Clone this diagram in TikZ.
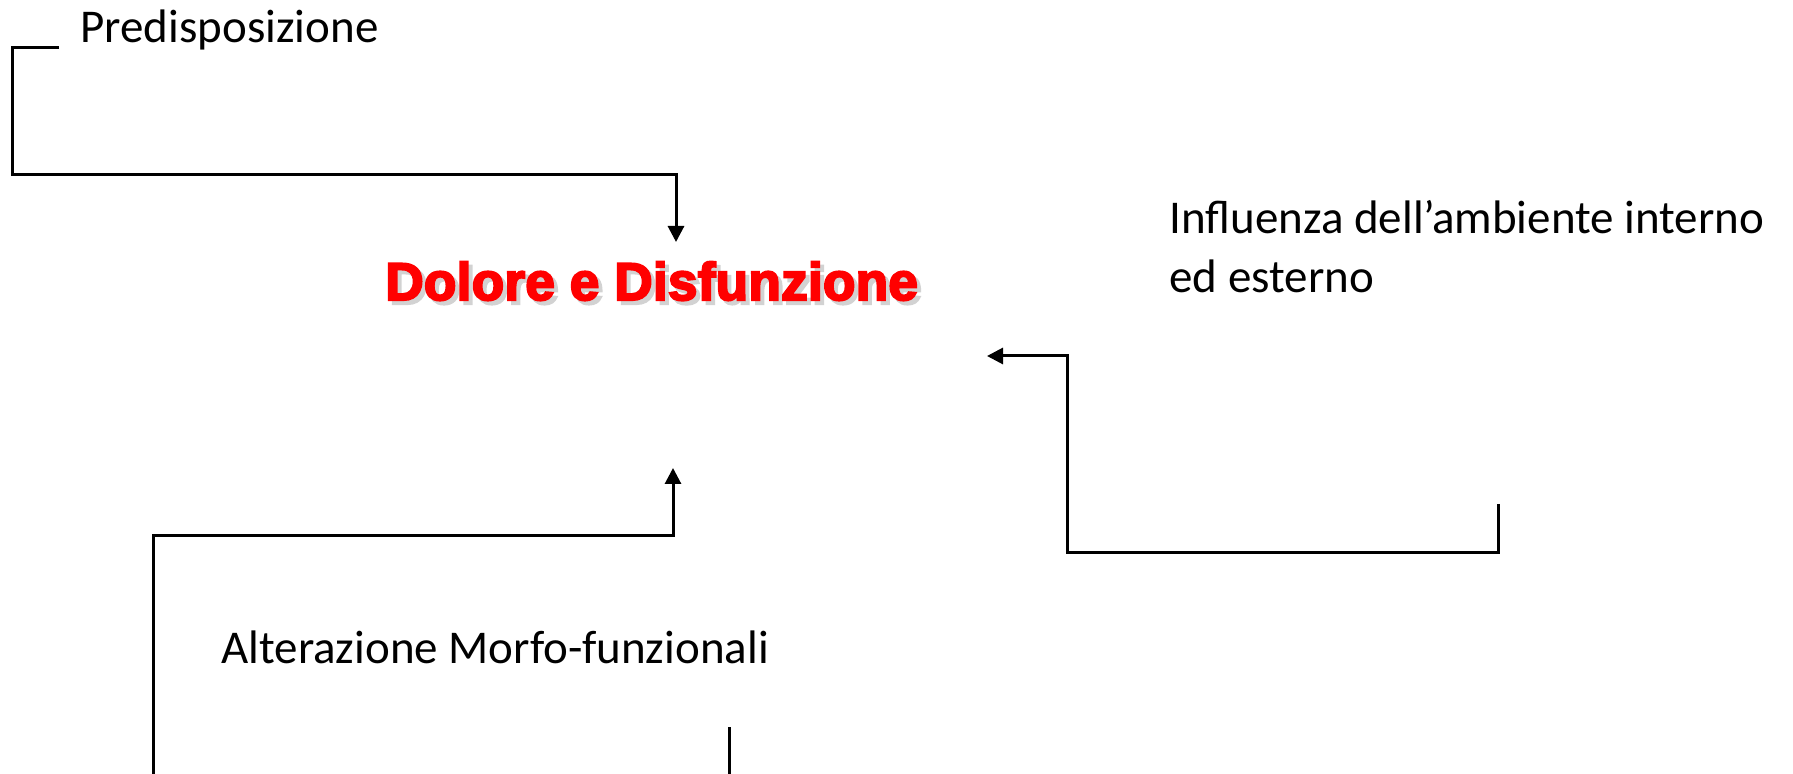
\documentclass[tikz,border=0pt]{standalone}
\usepackage{fontspec}
\usetikzlibrary{arrows.meta}
\newfontfamily\calib{Carlito}
\newfontfamily\titlefont{Liberation Sans Bold}[FakeBold=4,LetterSpace=0.6]
\definecolor{titlered}{RGB}{255,0,0}
\definecolor{shadowgray}{RGB}{210,210,210}
\tikzset{
  lbl/.style={inner sep=0pt, anchor=base west, font=\calib\fontsize{23.5}{28}\selectfont},
  ttl/.style={inner sep=0pt, anchor=base west, font=\titlefont\fontsize{26.5}{30}\selectfont},
  conn/.style={line width=1.5pt, -{Triangle[length=8pt,width=8pt]}},
  plain/.style={line width=1.5pt}
}
\begin{document}
\begin{tikzpicture}[x=0.5pt,y=-0.5pt]
\useasboundingbox (0,0) rectangle (1793,774);
% texts
\node[lbl] (pred) at (80,43) {Predisposizione};
\node[ttl, text=shadowgray] (titleshadow) at (389,304) {Dolore e Disfunzione};
\node[ttl, text=titlered] (title) at (385,300) {Dolore e Disfunzione};
\node[lbl] (infl1) at (1169,234) {Influenza dell’ambiente interno};
\node[lbl] (infl2) at (1169,293) {ed esterno};
\node[lbl] (alter) at (221,663) {Alterazione Morfo-funzionali};
% top connector
\coordinate (pA) at (59,48);
\coordinate (pB) at (12,175);
\coordinate (pTip) at (676,242);
\draw[conn] (pA) -| (pB) -| (pTip);
% right connector
\coordinate (rS) at (1498,504);
\coordinate (rC) at (1067,553);
\coordinate (rTip) at (987,356);
\draw[conn] (rS) |- (rC) |- (rTip);
% bottom connector
\coordinate (bS) at (153,774);
\coordinate (bC) at (673,536);
\coordinate (bTip) at (673,468);
\draw[conn] (bS) |- (bC) -- (bTip);
% short line
\coordinate (sA) at (729.5,727);
\coordinate (sB) at (729.5,774);
\draw[plain] (sA) -- (sB);
\end{tikzpicture}
\end{document}
